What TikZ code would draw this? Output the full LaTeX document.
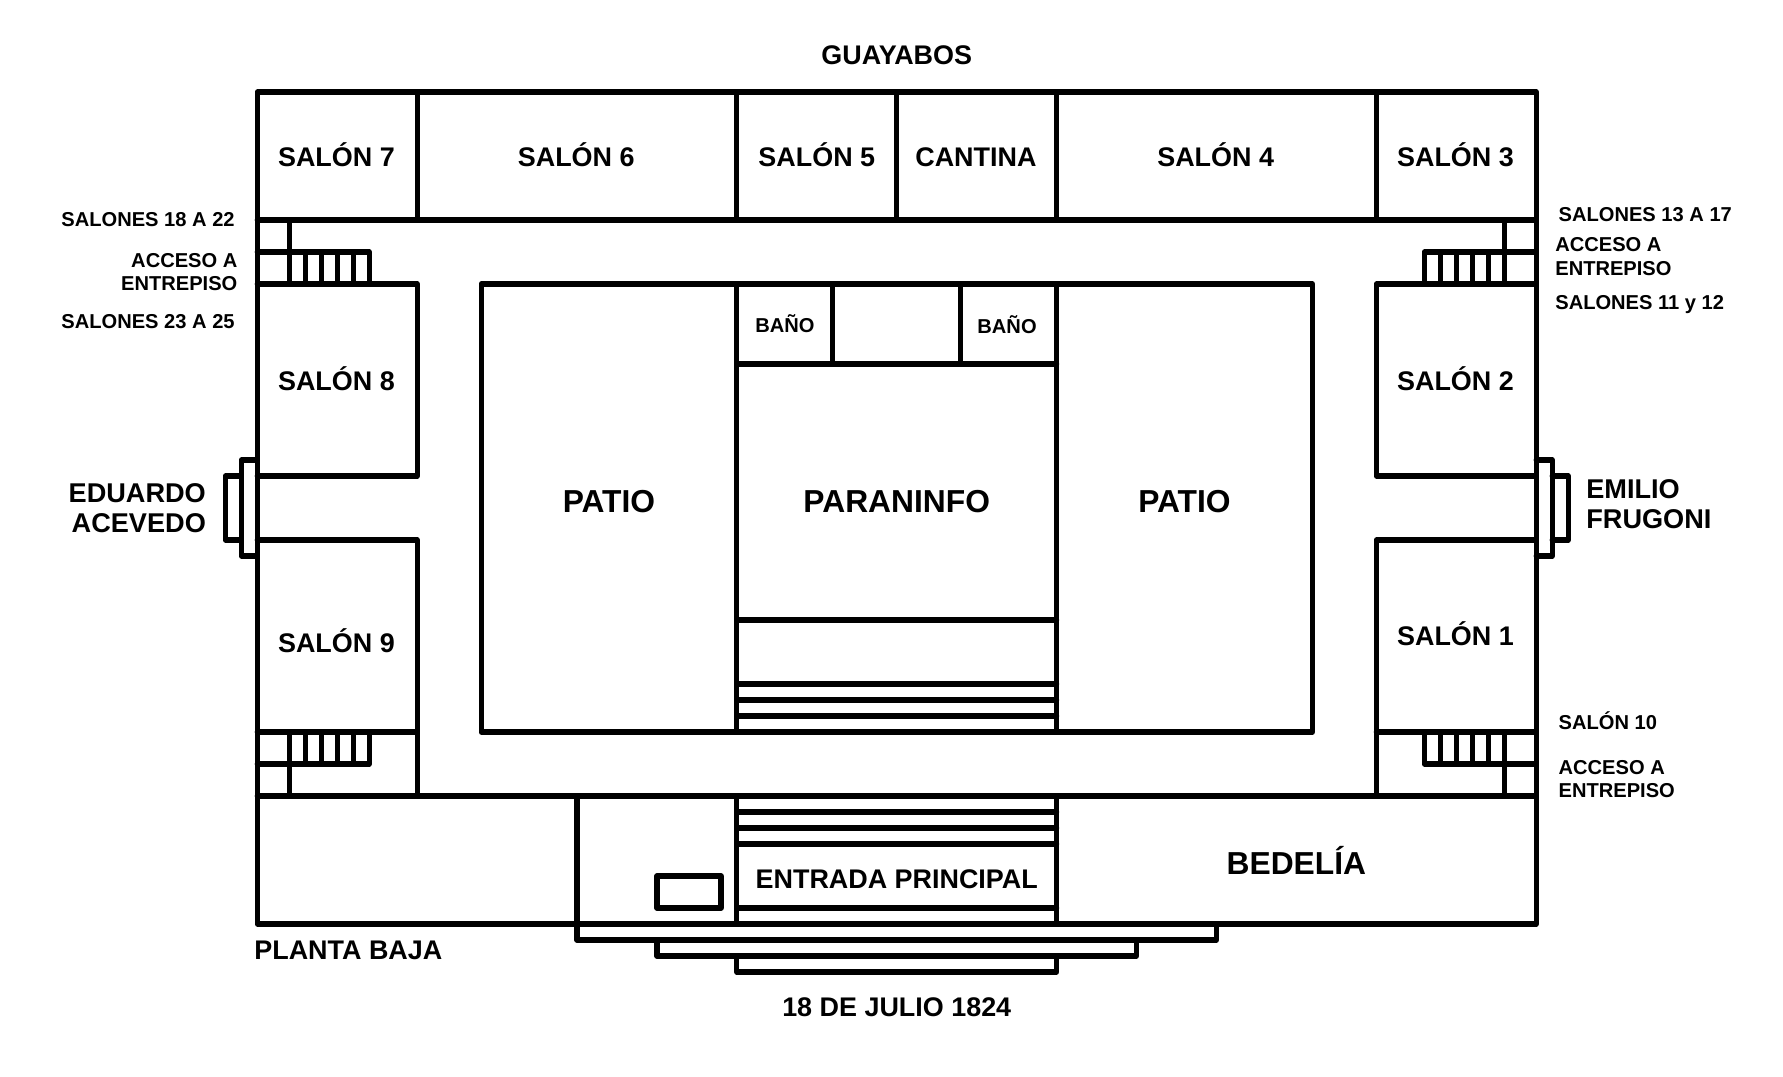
\documentclass[tikz,border=0pt]{standalone}
\usepackage{fontspec}
\setmainfont{Liberation Sans}
\tikzset{
  wall/.style={line width=3.7pt, line cap=round, line join=round},
  txt/.style={inner sep=0pt, text depth=0pt},
  big/.style={txt, text height=16.3pt, font=\fontsize{22.6}{26}\selectfont\bfseries},
  mid/.style={txt, text height=13.8pt, font=\fontsize{19.15}{22}\selectfont\bfseries},
  small/.style={txt, text height=10.3pt, font=\fontsize{14.3}{16}\selectfont\bfseries},
  twolines/.style={inner sep=0pt, font=\fontsize{14.3}{16.6}\selectfont\bfseries},
  doorname/.style={inner sep=0pt, font=\fontsize{19.3}{21.6}\selectfont\bfseries}
}
\begin{document}
\begin{tikzpicture}[x=0.39963cm, y=-0.4cm]
\useasboundingbox (-16.096,-5.75) rectangle (95.44,61.56);
\draw [wall] (0,0) rectangle (80,52);
\draw [wall] (0,8) -- (80,8);
\draw [wall] (10,0) -- (10,8);
\draw [wall] (30,0) -- (30,8);
\draw [wall] (40,0) -- (40,8);
\draw [wall] (50,0) -- (50,8);
\draw [wall] (70,0) -- (70,8);
\draw [wall] (0,12) -- (10,12) -- (10,24) -- (0,24);
\draw [wall] (0,28) -- (10,28) -- (10,44);
\draw [wall] (0,40) -- (10,40);
\draw [wall] (80,12) -- (70,12) -- (70,24) -- (80,24);
\draw [wall] (80,28) -- (70,28) -- (70,44);
\draw [wall] (80,40) -- (70,40);
\draw [wall] (2,8) -- (2,12);
\draw [wall] (0,10) -- (7,10) -- (7,12);
\draw [wall] (3,10) -- (3,12);
\draw [wall] (4,10) -- (4,12);
\draw [wall] (5,10) -- (5,12);
\draw [wall] (6,10) -- (6,12);
\draw [wall] (78,8) -- (78,12);
\draw [wall] (80,10) -- (73,10) -- (73,12);
\draw [wall] (74,10) -- (74,12);
\draw [wall] (75,10) -- (75,12);
\draw [wall] (76,10) -- (76,12);
\draw [wall] (77,10) -- (77,12);
\draw [wall] (2,40) -- (2,44);
\draw [wall] (0,42) -- (7,42) -- (7,40);
\draw [wall] (3,40) -- (3,42);
\draw [wall] (4,40) -- (4,42);
\draw [wall] (5,40) -- (5,42);
\draw [wall] (6,40) -- (6,42);
\draw [wall] (78,40) -- (78,44);
\draw [wall] (80,42) -- (73,42) -- (73,40);
\draw [wall] (74,40) -- (74,42);
\draw [wall] (75,40) -- (75,42);
\draw [wall] (76,40) -- (76,42);
\draw [wall] (77,40) -- (77,42);
\draw [wall] (14,12) rectangle (66,40);
\draw [wall] (30,12) -- (30,40);
\draw [wall] (50,12) -- (50,40);
\draw [wall] (36,12) -- (36,17);
\draw [wall] (44,12) -- (44,17);
\draw [wall] (30,17) -- (50,17);
\draw [wall] (30,33) -- (50,33);
\draw [wall] (30,37) -- (50,37);
\draw [wall] (30,38) -- (50,38);
\draw [wall] (30,39) -- (50,39);
\draw [wall] (0,44) -- (80,44);
\draw [wall] (30,44) -- (30,52);
\draw [wall] (50,44) -- (50,52);
\draw [wall] (30,45) -- (50,45);
\draw [wall] (30,46) -- (50,46);
\draw [wall] (30,47) -- (50,47);
\draw [wall] (30,51) -- (50,51);
\draw [wall] (25,49) rectangle (29,51);
\draw [wall] (20,44) -- (20,53) -- (60,53) -- (60,52);
\draw [wall] (25,53) -- (25,54) -- (55,54) -- (55,53);
\draw [wall] (30,54) -- (30,55) -- (50,55) -- (50,54);
\draw [wall] (0,23) -- (-1,23) -- (-1,29) -- (0,29);
\draw [wall] (-1,24) -- (-2,24) -- (-2,28) -- (-1,28);
\draw [wall] (80,23) -- (81,23) -- (81,29) -- (80,29);
\draw [wall] (81,24) -- (82,24) -- (82,28) -- (81,28);
\node [mid] (guayabos) at (40,-2.34) {GUAYABOS};
\node [mid] (salon7) at (4.95,4.03) {SALÓN 7};
\node [mid] (salon6) at (19.95,4.03) {SALÓN 6};
\node [mid] (salon5) at (35,4.03) {SALÓN 5};
\node [mid] (cantina) at (44.95,4.03) {CANTINA};
\node [mid] (salon4) at (59.95,4.03) {SALÓN 4};
\node [mid] (salon3) at (74.95,4.03) {SALÓN 3};
\node [mid] (salon8) at (4.95,18.03) {SALÓN 8};
\node [mid] (salon2) at (74.95,18.03) {SALÓN 2};
\node [mid] (salon9) at (4.95,34.4) {SALÓN 9};
\node [mid] (salon1) at (74.95,34) {SALÓN 1};
\node [big] (patioL) at (22,25.55) {PATIO};
\node [big] (paraninfo) at (40,25.55) {PARANINFO};
\node [big] (patioR) at (58,25.55) {PATIO};
\node [small] (banoL) at (33,14.57) {BAÑO};
\node [small] (banoR) at (46.9,14.62) {BAÑO};
\node [mid] (entrada) at (40,49.2) {ENTRADA PRINCIPAL};
\node [big] (bedelia) at (65,48.2) {BEDELÍA};
\node [mid, anchor=west] (planta) at (-0.2,53.6) {PLANTA BAJA};
\node [mid] (julio) at (40,57.17) {18 DE JULIO 1824};
\node [small, anchor=east] (sal18) at (-1.4,7.96) {SALONES 18 A 22};
\node [twolines, anchor=east, align=right] (accLT) at (-1.23,11.27) {ACCESO A\\ENTREPISO};
\node [small, anchor=east] (sal23) at (-1.4,14.31) {SALONES 23 A 25};
\node [small, anchor=west] (sal13) at (81.39,7.63) {SALONES 13 A 17};
\node [twolines, anchor=west, align=left] (accRT) at (81.18,10.29) {ACCESO A\\ENTREPISO};
\node [small, anchor=west] (sal11) at (81.18,13.14) {SALONES 11 y 12};
\node [small, anchor=west] (sal10) at (81.39,39.4) {SALÓN 10};
\node [twolines, anchor=west, align=left] (accRB) at (81.39,42.93) {ACCESO A\\ENTREPISO};
\node [doorname, anchor=east, align=right] (eduardo) at (-3.2,26) {EDUARDO\\ACEVEDO};
\node [doorname, anchor=west, align=left] (emilio) at (83.12,25.77) {EMILIO\\FRUGONI};
\end{tikzpicture}
\end{document}
